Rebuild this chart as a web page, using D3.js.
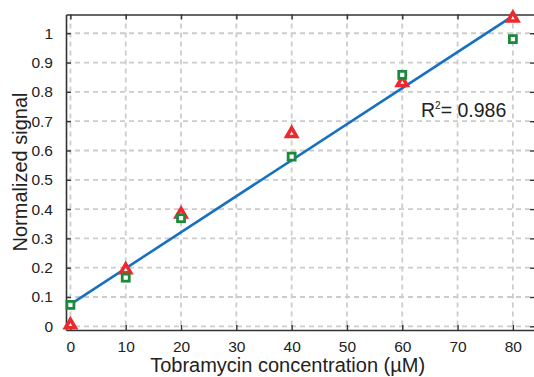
<!DOCTYPE html>
<html>
<head>
<meta charset="utf-8">
<script src="https://cdn.jsdelivr.net/npm/d3@7/dist/d3.min.js"></script>
<style>
body{margin:0;background:#fff;}
text{font-family:"Liberation Sans",Arial,sans-serif;fill:#222;}
</style>
</head>
<body>
<svg class="plot" width="534" height="377"></svg>
<script>
var concentrations=[0,10,20,40,60,80];
var redSignal=[0.008,0.196,0.386,0.661,0.835,1.055];
var greenSignal=[0.073,0.166,0.369,0.579,0.858,0.98];
var fitLine=[[0,0.075],[80,1.059]];
var xTicks=[0,10,20,30,40,50,60,70,80];
var yTicks=[0,0.1,0.2,0.3,0.4,0.5,0.6,0.7,0.8,0.9,1];
var rSquared="0.986";

var svg=d3.select("svg.plot");
var margin={top:14.5,bottom:47,left:66,right:-1};
var width=534-margin.left-margin.right;
var height=377-margin.top-margin.bottom;

var xscale=d3.scaleLinear()
             .domain([-0.8,84.0])
             .range([0,width]);
var yscale=d3.scaleLinear()
             .domain([-0.0126,1.064])
             .range([height,0]);

var plot=svg.append("g")
            .attr("transform","translate("+margin.left+","+margin.top+")");

// grid
plot.append("g").selectAll("line")
    .data(xTicks)
    .enter()
    .append("line")
    .attr("x1",function(d){return xscale(d);})
    .attr("x2",function(d){return xscale(d);})
    .attr("y1",0)
    .attr("y2",height)
    .attr("stroke","#cccccc")
    .attr("stroke-width",1.8)
    .attr("stroke-dasharray","5,4");
plot.append("g").selectAll("line")
    .data(yTicks)
    .enter()
    .append("line")
    .attr("x1",0)
    .attr("x2",width)
    .attr("y1",function(d){return yscale(d);})
    .attr("y2",function(d){return yscale(d);})
    .attr("stroke","#cccccc")
    .attr("stroke-width",1.8)
    .attr("stroke-dasharray","5,4");

// axes
var styleAxis=function(g){
  g.select(".domain").attr("stroke","#333").attr("stroke-width",1.6);
  g.selectAll(".tick line").attr("stroke","#333").attr("stroke-width",1.4);
  g.selectAll(".tick text").style("font-size","15.5px").attr("fill","#222");
};
plot.append("g")
    .attr("transform","translate(0,"+height+")")
    .call(d3.axisBottom(xscale).tickValues(xTicks).tickSizeInner(-5).tickSizeOuter(0).tickPadding(11))
    .call(styleAxis);
plot.append("g")
    .call(d3.axisLeft(yscale).tickValues(yTicks).tickFormat(d3.format("~g")).tickSizeInner(-5).tickSizeOuter(0).tickPadding(13))
    .call(styleAxis);
plot.append("g")
    .call(d3.axisTop(xscale).tickValues(xTicks).tickSizeInner(-5).tickSizeOuter(0).tickFormat(""))
    .call(styleAxis);
plot.append("g")
    .attr("transform","translate("+width+",0)")
    .call(d3.axisRight(yscale).tickValues(yTicks).tickSizeInner(-5).tickSizeOuter(0).tickFormat(""))
    .call(styleAxis);

// fit line
plot.append("path")
    .datum(fitLine)
    .attr("d",d3.line().x(function(d){return xscale(d[0]);}).y(function(d){return yscale(d[1]);}))
    .attr("fill","none")
    .attr("stroke","#1771c0")
    .attr("stroke-width",2.6);

// red triangles
var tri=d3.symbol().type(d3.symbolTriangle).size(42);
plot.append("g").selectAll("path")
    .data(concentrations)
    .enter()
    .append("path")
    .attr("d",tri)
    .attr("transform",function(d,i){return "translate("+xscale(d)+","+(yscale(redSignal[i])+1)+")";})
    .attr("fill","#fff")
    .attr("stroke","#ec2a2d")
    .attr("stroke-width",3.6)
    .attr("stroke-linejoin","miter");

// green squares
plot.append("g").selectAll("rect")
    .data(concentrations)
    .enter()
    .append("rect")
    .attr("x",function(d){return xscale(d)-3.5;})
    .attr("y",function(d,i){return yscale(greenSignal[i])-3.5;})
    .attr("width",7)
    .attr("height",7)
    .attr("fill","#fff")
    .attr("stroke","#1b8a3c")
    .attr("stroke-width",2.8);

// R^2 label
var rt=plot.append("text")
    .attr("x",355)
    .attr("y",102)
    .style("font-size","19.5px");
rt.append("tspan").text("R");
rt.append("tspan").attr("dy",-8).style("font-size","10px").text("2");
rt.append("tspan").attr("dy",8).text("= "+rSquared);

// axis labels
svg.append("text")
   .attr("x",margin.left+xscale(40)-4)
   .attr("y",372)
   .attr("text-anchor","middle")
   .style("font-size","20px")
   .text("Tobramycin concentration (\u00b5M)");
svg.append("text")
   .attr("transform","translate(27,172) rotate(-90)")
   .attr("text-anchor","middle")
   .style("font-size","20px")
   .text("Normalized signal");
</script>
</body>
</html>
